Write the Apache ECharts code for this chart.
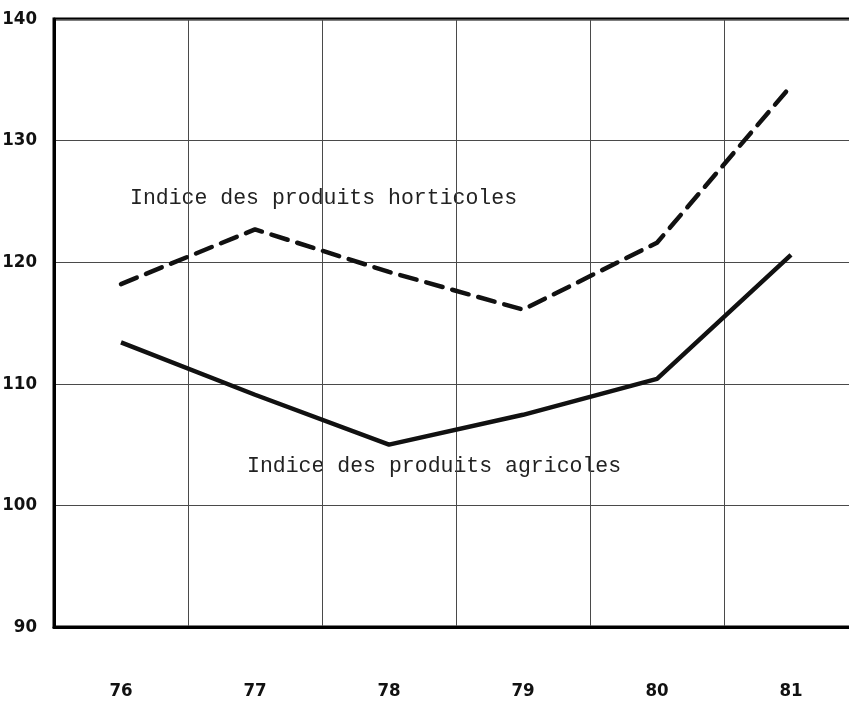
<!DOCTYPE html>
<html><head><meta charset="utf-8">
<script src="https://cdn.jsdelivr.net/npm/echarts@6/dist/echarts.min.js"></script>
<style>html,body{margin:0;padding:0;background:#fff}#c{width:849px;height:702px}</style>
</head><body><div id="c"></div>
<script>
const years = ['76','77','78','79','80','81'];
const horticoles = [118.2, 122.7, 119.2, 116.1, 121.6, 134.5];
const agricoles = [113.4, 109.1, 105.0, 107.45, 110.4, 120.6];
const yTicks = {min: 90, max: 140, interval: 10};
const labelHort = 'Indice des produits horticoles';
const labelAgri = 'Indice des produits agricoles';

const chart = echarts.init(document.getElementById('c'));
const tickFont = {fontFamily: '"DejaVu Sans Condensed"', fontWeight: 'bold', fontSize: 18.5, color: '#111'};
chart.setOption({
  backgroundColor: '#fff',
  animation: false,
  grid: {left: 54, top: 19, width: 804, bottom: 75, outerBoundsMode: 'none', containLabel: false, show: true, borderColor: '#000', borderWidth: 3, backgroundColor: 'transparent'},
  xAxis: {
    type: 'category', data: years, boundaryGap: true,
    axisLine: {show: true, lineStyle: {color: '#000', width: 3}},
    axisTick: {show: false},
    axisLabel: Object.assign({margin: 55}, tickFont),
    splitLine: {show: true, lineStyle: {color: '#4a4a4a', width: 1}}
  },
  yAxis: {
    type: 'value', min: yTicks.min, max: yTicks.max, interval: yTicks.interval,
    axisLine: {show: true, lineStyle: {color: '#000', width: 3}},
    axisTick: {show: false},
    axisLabel: Object.assign({margin: 17}, tickFont),
    splitLine: {show: true, lineStyle: {color: '#4a4a4a', width: 1}}
  },
  graphic: [
    {type: 'text', left: 130, top: 187, style: {text: labelHort, font: '21.5px "Liberation Mono"', fill: '#222'}},
    {type: 'text', left: 247, top: 455, style: {text: labelAgri, font: '21.5px "Liberation Mono"', fill: '#222'}}
  ],
  series: [
    {type: 'line', data: horticoles, symbol: 'none', lineStyle: {color: '#111', width: 4.5, type: [17, 10], cap: 'round'}},
    {type: 'line', data: agricoles, symbol: 'none', lineStyle: {color: '#111', width: 4.5}}
  ]
});
</script></body></html>
